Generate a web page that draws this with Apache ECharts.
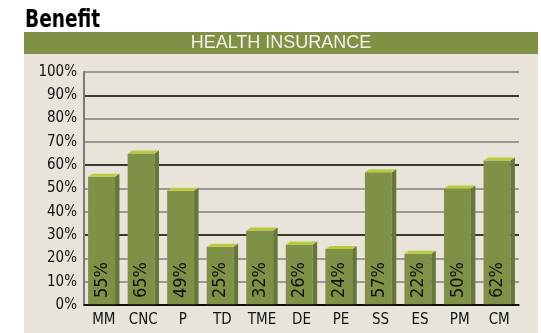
<!DOCTYPE html>
<html>
<head>
<meta charset="utf-8">
<script src="https://cdn.jsdelivr.net/npm/echarts@6/dist/echarts.min.js"></script>
<style>
  html, body { margin: 0; padding: 0; background: #ffffff; }
  #chart { width: 541px; height: 333px; }
</style>
</head>
<body>
<div id="chart"></div>
<script>
// Share of each group offering health insurance
const categories = ['MM', 'CNC', 'P', 'TD', 'TME', 'DE', 'PE', 'SS', 'ES', 'PM', 'CM'];
const values = [55, 65, 49, 25, 32, 26, 24, 57, 22, 50, 62];
const yTicks = [0, 10, 20, 30, 40, 50, 60, 70, 80, 90, 100];

const NARROW = '"Liberation Sans Narrow", "DejaVu Sans Condensed", "Arial Narrow", sans-serif';
const FRONT = '#7e9146';
const TOP = '#b7cc3f';
const SIDE = '#657739';

const chart = echarts.init(document.getElementById('chart'), null, { renderer: 'canvas' });

function renderBar(params, api) {
  const idx = api.value(0);
  const v = api.value(1);
  const base = api.coord([idx, 0]);
  const top = api.coord([idx, v]);
  const band = api.size([1, 0])[0];
  const dx = 4.5, dy = 3;
  const fw = band * 0.68;
  const x0 = base[0] - (fw + dx) / 2;
  const x1 = x0 + fw;
  const yT = top[1], yB = base[1];
  return {
    type: 'group',
    children: [
      { type: 'rect', shape: { x: x0, y: yT, width: fw, height: yB - yT }, style: { fill: FRONT } },
      { type: 'polygon', shape: { points: [[x1, yT], [x1 + dx, yT - dy], [x1 + dx, yB - 1], [x1, yB]] }, style: { fill: SIDE } },
      { type: 'polygon', shape: { points: [[x0, yT], [x0 + dx, yT - dy], [x1 + dx, yT - dy], [x1, yT]] }, style: { fill: TOP } },
      {
        type: 'text',
        x: x0 + fw / 2 + 0.5,
        y: yB - 7,
        rotation: Math.PI / 2,
        style: {
          text: v + '%',
          fill: '#111111',
          font: '18px ' + NARROW,
          align: 'left',
          verticalAlign: 'middle'
        }
      }
    ]
  };
}

chart.setOption({
  animation: false,
  backgroundColor: '#ffffff',
  graphic: [
    { type: 'rect', z: -10, shape: { x: 24, y: 54, width: 514, height: 279 }, style: { fill: '#e8e4da' } },
    { type: 'rect', z: -10, shape: { x: 24, y: 32, width: 514, height: 22 }, style: { fill: '#7f9145' } },
    { type: 'text', x: 25, y: 21, scaleX: 0.86, style: { text: 'Benefit', font: 'bold 24px ' + NARROW, fill: '#000000', verticalAlign: 'middle' } },
    { type: 'text', x: 281, y: 43.5, style: { text: 'HEALTH INSURANCE', font: '18px "Liberation Sans", sans-serif', fill: '#f2f1e8', align: 'center', verticalAlign: 'middle' } }
  ],
  grid: { left: 84, right: 22, top: 72, bottom: 28 },
  xAxis: {
    type: 'category',
    data: categories,
    axisLine: { lineStyle: { color: '#000000', width: 1.5 } },
    axisTick: { show: false },
    axisLabel: { color: '#111111', fontFamily: NARROW, fontSize: 15, margin: 8, interval: 0 },
    z: 5
  },
  yAxis: {
    type: 'value',
    min: 0, max: 100, interval: 10,
    axisLine: { show: true, lineStyle: { color: '#7a7a7a', width: 2 } },
    axisTick: { show: false },
    axisLabel: {
      color: '#111111', fontFamily: NARROW, fontSize: 15, margin: 7,
      formatter: function (val) { return yTicks.indexOf(val) >= 0 ? val + '%' : ''; }
    },
    splitLine: { show: true, lineStyle: { color: ['#000000', '#7f7f7f', '#7f7f7f'], width: 1.6 } }
  },
  series: [{
    type: 'custom',
    renderItem: renderBar,
    encode: { x: 0, y: 1 },
    data: values.map(function (v, i) { return [i, v]; }),
    z: 3
  }]
});
</script>
</body>
</html>
